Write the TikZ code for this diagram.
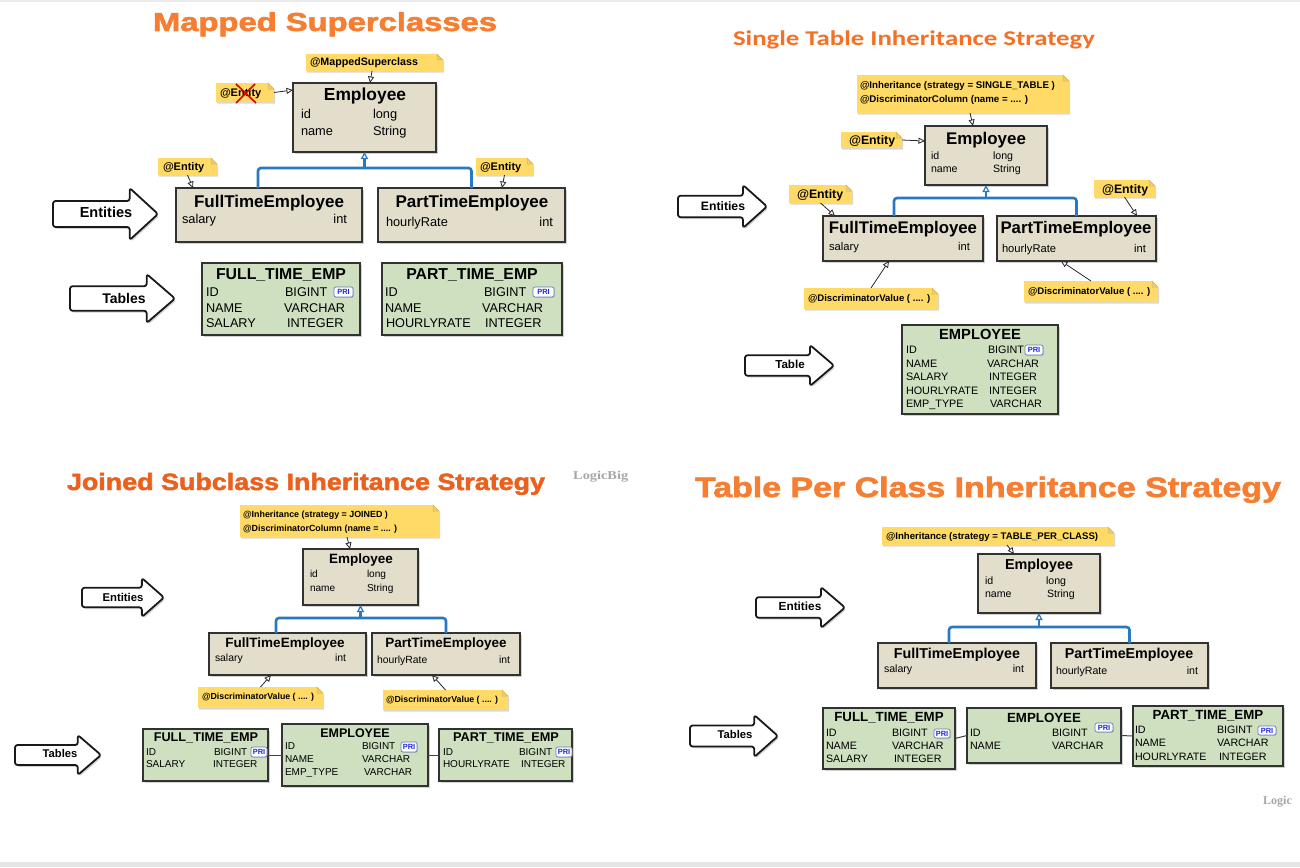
\documentclass[tikz,border=0pt]{standalone}
\usepackage{fontspec}
\setmainfont{Liberation Sans}
\newfontfamily\heavyfont{Liberation Sans}[FakeBold=2]
\newfontfamily\calfont{Carlito}
\newfontfamily\serffont{Liberation Serif}
\usepackage{graphicx}
\usetikzlibrary{shadows,arrows.meta,calc}
\definecolor{entfill}{RGB}{226,222,203}
\definecolor{tblfill}{RGB}{206,224,191}
\definecolor{notefill}{RGB}{255,218,102}
\definecolor{noteedge}{RGB}{222,182,66}
\definecolor{inhblue}{RGB}{40,120,195}
\definecolor{boxedge}{RGB}{50,50,50}
\definecolor{orA}{RGB}{246,126,50}
\definecolor{orB}{RGB}{243,112,36}
\definecolor{orC}{RGB}{236,96,30}
\definecolor{priblue}{RGB}{30,40,230}
\definecolor{priedge}{RGB}{110,120,190}
\newcounter{tn}
\newcommand\fsz[1]{\fontsize{#1}{#1}\selectfont}
\newcommand\fitw[2]{\resizebox{#1}{\height}{#2}}
\tikzset{
  txt/.style={inner sep=0, outer sep=0, anchor=base west},
  ent/.style={anchor=north west, draw=boxedge, line width=1.6pt, fill=entfill, inner sep=0, outer sep=0,
    drop shadow={shadow xshift=1.8pt, shadow yshift=-2pt, opacity=0.35}},
  tbl/.style={ent, fill=tblfill},
  pri/.style={anchor=north west, draw=priedge, fill=white, rounded corners=2pt, line width=0.7pt, inner sep=0, outer sep=0,
    text=priblue, font=\fsz{7.5}\bfseries, drop shadow={shadow xshift=0.8pt, shadow yshift=-0.8pt, opacity=0.35}},
  nt/.style={draw=black!85, line width=0.8pt, -{Triangle[length=6.5pt, width=6pt, fill=white]}},
  inh/.style={draw=inhblue, line width=2.6pt, rounded corners=3pt},
  inharr/.style={draw=inhblue, line width=2.6pt, -{Triangle[length=7pt, width=7pt, fill=white, line width=1.2pt]}},
  tline/.style={draw=black!75, line width=1pt}
}
% text: [opts]{x}{y}{size}{text}
\newcommand\Tx[5][]{\stepcounter{tn}\node[txt,font=\fsz{#4},#1] (t\arabic{tn}) at (#2,{#3+0.36*#4}) {#5};}
% box: {style}{name}{x0}{y0}{x1}{y1}
\newcommand\Bx[6]{\node[#1, minimum width={#5-#3}, minimum height={#6-#4}] (#2) at (#3,#4) {};}
% note: {name}{x0}{y0}{x1}{y1}
\newcommand\Nx[5]{%
  \fill[notefill, drop shadow={shadow xshift=1pt, shadow yshift=-1.5pt, opacity=0.3}] (#2,#3) -- (#4-6,#3) -- (#4,#3+6) -- (#4,#5) -- (#2,#5) -- cycle;
  \filldraw[fill=noteedge!70, draw=noteedge, line width=0.5pt] (#4-6,#3) -- (#4-6,#3+6) -- (#4,#3+6) -- cycle;
  \node[anchor=north west, inner sep=0, outer sep=0, minimum width={#4-#2}, minimum height={#5-#3}] (#1) at (#2,#3) {};}
% PRI badge
\newcommand\Prix[5]{\node[pri, minimum width={#4-#2}, minimum height={#5-#3}] (#1) at (#2,#3) {PRI};}
% block arrow: {name}{x0}{y0}{x1}{y1}{lx}{ly}{size}{text}
\newcommand\BAx[9]{%
  \pgfmathsetmacro\hx{#4-0.27*(#4-#2)}%
  \pgfmathsetmacro\bt{#3+0.25*(#5-#3)}%
  \pgfmathsetmacro\bb{#5-0.25*(#5-#3)}%
  \pgfmathsetmacro\ym{(#3+#5)/2}%
  \filldraw[fill=white, draw=black!90, line width=1.8pt, rounded corners=2.5pt, line join=round,
    drop shadow={shadow xshift=1.5pt, shadow yshift=-1.8pt, opacity=0.35}]
    (#2,\bt) -- (\hx,\bt) -- (\hx,#3) -- (#4,\ym) -- (\hx,#5) -- (\hx,\bb) -- (#2,\bb) -- cycle;
  \node[inner sep=0, font=\fsz{#8}\bfseries] (#1) at (#6,#7) {#9};}
\begin{document}
\begin{tikzpicture}[x=1pt,y=-1pt]
\useasboundingbox (0,0) rectangle (1300,867);
\fill[white] (0,0) rectangle (1300,867);
\fill[black!8] (0,0) rectangle (1300,2);
\fill[black!10] (0,862) rectangle (1300,867);

% ================= Q1 Mapped Superclasses =================
\node[anchor=base, inner sep=0, text=orA] (q1title) at (325,31) {\fitw{344pt}{\heavyfont\bfseries\fsz{26}Mapped Superclasses}};
\BAx{q1ent}{53}{188}{158}{240}{106}{212}{14.5}{Entities}
\BAx{q1tab}{70}{274}{175}{323}{124}{298}{14}{Tables}
\Nx{q1ms}{306}{54}{443}{71}
\Tx{310}{62}{10.7}{\bfseries @MappedSuperclass}
\Nx{q1ex}{216}{83}{274}{102}
\Tx{220}{93}{11}{\bfseries @Entity}
\draw[red!85!black, line width=1.6pt] (236,84) -- (256,103) (255,84) -- (236,103);
\Bx{ent}{q1emp}{293}{83}{436}{152}
\Tx[anchor=base]{365}{94}{17.4}{\bfseries Employee}
\Tx{301}{114}{12.8}{id}\Tx{373}{114}{12.8}{long}
\Tx{301}{131}{12.8}{name}\Tx{373}{131}{12.8}{String}
\Bx{ent}{q1ft}{176}{188}{362}{242}
\Tx[anchor=base]{269}{201}{17}{\bfseries FullTimeEmployee}
\Tx{182}{219}{12.8}{salary}\Tx[anchor=base east]{347}{219}{12.8}{int}
\Bx{ent}{q1pt}{378}{188}{565}{242}
\Tx[anchor=base]{472}{201}{17}{\bfseries PartTimeEmployee}
\Tx{386}{222}{12.8}{hourlyRate}\Tx[anchor=base east]{553}{222}{12.8}{int}
\Nx{q1nf}{158}{158}{217}{175}
\Tx{163}{167}{11}{\bfseries @Entity}
\Nx{q1np}{476}{158}{533}{175}
\Tx{480}{167}{11}{\bfseries @Entity}
\draw[nt] ([xshift=-2.5pt]q1ms.south) -- ([xshift=5.5pt]q1emp.north);
\draw[nt] (q1ex.east) -- ([yshift=-7pt]q1emp.north west);
\draw[nt] (q1nf.south) -- ([xshift=17pt]q1ft.north west);
\draw[nt] (q1np.south) -- ([xshift=124pt]q1pt.north west);
\draw[inh] ([xshift=-11pt]q1ft.north) |- ([yshift=-16pt]q1emp.south) -| (q1pt.north);
\draw[inharr] ([yshift=-16pt]q1emp.south) -- (q1emp.south);
\Bx{tbl}{q1tft}{202}{263}{360}{335}
\Tx[anchor=base]{281}{274}{15.8}{\bfseries FULL\_TIME\_EMP}
\Tx{206}{292}{12.7}{ID}\Tx{285}{292}{12.7}{BIGINT}\Prix{q1p1}{334}{287}{353}{297}
\Tx{206}{308}{12.7}{NAME}\Tx{284}{308}{12.7}{VARCHAR}
\Tx{206}{323}{12.7}{SALARY}\Tx{287}{323}{12.7}{INTEGER}
\Bx{tbl}{q1tpt}{382}{263}{562}{335}
\Tx[anchor=base]{472}{274}{15.8}{\bfseries PART\_TIME\_EMP}
\Tx{385}{292}{12.7}{ID}\Tx{484}{292}{12.7}{BIGINT}\Prix{q1p2}{533}{287}{554}{297}
\Tx{385}{308}{12.7}{NAME}\Tx{482}{308}{12.7}{VARCHAR}
\Tx{386}{323}{12.7}{HOURLYRATE}\Tx{485}{323}{12.7}{INTEGER}

% ================= Q2 Single Table =================
\node[anchor=base, inner sep=0, text=orB] (q2title) at (914,46) {\fitw{362pt}{\calfont\bfseries\fsz{21}Single Table Inheritance Strategy}};
\BAx{q2ent}{678}{185}{767}{228}{723}{206}{12.2}{Entities}
\BAx{q2tab}{745}{345}{834}{386}{790}{364}{11.6}{Table}
\Nx{q2ni}{857}{75}{1069}{113}
\Tx{860}{85}{9.7}{\bfseries @Inheritance (strategy = SINGLE\_TABLE )}
\Tx{860}{99}{9.7}{\bfseries @DiscriminatorColumn (name = .... )}
\Bx{ent}{q2emp}{925}{126}{1047}{185}
\Tx[anchor=base]{986}{138}{16.9}{\bfseries Employee}
\Tx{931}{156}{10.6}{id}\Tx{993}{156}{10.6}{long}
\Tx{931}{169}{10.6}{name}\Tx{993}{169}{10.6}{String}
\Nx{q2ne}{841}{132}{902}{148}
\Tx{849}{140}{12.3}{\bfseries @Entity}
\Bx{ent}{q2ft}{823}{216}{983}{261}
\Tx[anchor=base]{903}{227}{16.8}{\bfseries FullTimeEmployee}
\Tx{829}{246}{11.2}{salary}\Tx[anchor=base east]{970}{246}{11.2}{int}
\Bx{ent}{q2pt}{997}{216}{1156}{261}
\Tx[anchor=base]{1076}{227}{16.8}{\bfseries PartTimeEmployee}
\Tx{1002}{248}{11.2}{hourlyRate}\Tx[anchor=base east]{1146}{248}{11.2}{int}
\Nx{q2nf}{789}{185}{852}{203}
\Tx{797}{194}{12.3}{\bfseries @Entity}
\Nx{q2np}{1094}{180}{1155}{197}
\Tx{1102}{189}{12.3}{\bfseries @Entity}
\Nx{q2dl}{804}{288}{938}{309}
\Tx{808}{298}{9.6}{\bfseries @DiscriminatorValue ( .... )}
\Nx{q2dr}{1024}{281}{1158}{302}
\Tx{1028}{291}{9.6}{\bfseries @DiscriminatorValue ( .... )}
\draw[nt] ([xshift=7pt]q2ni.south) -- ([xshift=-13pt]q2emp.north);
\draw[nt] (q2ne.east) -- ([yshift=-15pt]q2emp.north west);
\draw[nt] (q2nf.south) -- ([xshift=12pt]q2ft.north west);
\draw[nt] (q2np.south) -- ([xshift=-19pt]q2pt.north east);
\draw[nt] (q2dl.north) -- ([xshift=-14pt]q2ft.south);
\draw[nt] (q2dr.north) -- ([xshift=-15.5pt]q2pt.south);
\draw[inh] ([xshift=-9pt]q2ft.north) |- ([yshift=-13pt]q2emp.south) -| (q2pt.north);
\draw[inharr] ([yshift=-13pt]q2emp.south) -- (q2emp.south);
\Bx{tbl}{q2temp}{902}{325}{1058}{414}
\Tx[anchor=base]{980}{334}{14.7}{\bfseries EMPLOYEE}
\Tx{906}{350}{10.8}{ID}\Tx{988}{350}{10.8}{BIGINT}\Prix{q2p}{1025}{345}{1043}{355}
\Tx{906}{364}{10.8}{NAME}\Tx{987}{364}{10.8}{VARCHAR}
\Tx{906}{377}{10.8}{SALARY}\Tx{989}{377}{10.8}{INTEGER}
\Tx{906}{391}{10.8}{HOURLYRATE}\Tx{989}{391}{10.8}{INTEGER}
\Tx{906}{404}{10.8}{EMP\_TYPE}\Tx{990}{404}{10.8}{VARCHAR}

% ================= Q3 Joined =================
\node[anchor=base, inner sep=0, text=orC] (q3title) at (306,490) {\fitw{478pt}{\heavyfont\bfseries\fsz{23.5}Joined Subclass Inheritance Strategy}};
\node[anchor=base west, inner sep=0, text=black!35] (q3logo) at (573,479) {\fitw{55pt}{\serffont\bfseries\fsz{12}LogicBig}};
\BAx{q3ent}{82}{578}{164}{617}{123}{597}{11.3}{Entities}
\BAx{q3tab}{15}{735}{101}{775}{60}{753}{11.2}{Tables}
\Nx{q3ni}{240}{505}{439}{537}
\Tx{243}{514}{8.9}{\bfseries @Inheritance (strategy = JOINED )}
\Tx{243}{528}{8.9}{\bfseries @DiscriminatorColumn (name = .... )}
\Bx{ent}{q3emp}{303}{549}{418}{605}
\Tx[anchor=base]{361}{559}{13.5}{\bfseries Employee}
\Tx{310}{574}{10.1}{id}\Tx{367}{574}{10.1}{long}
\Tx{310}{588}{10.1}{name}\Tx{367}{588}{10.1}{String}
\Bx{ent}{q3ft}{209}{633}{366}{675}
\Tx[anchor=base]{285}{643}{13.5}{\bfseries FullTimeEmployee}
\Tx{215}{658}{10.4}{salary}\Tx[anchor=base east]{346}{658}{10.4}{int}
\Bx{ent}{q3pt}{372}{633}{520}{675}
\Tx[anchor=base]{446}{643}{13.5}{\bfseries PartTimeEmployee}
\Tx{377}{660}{10.4}{hourlyRate}\Tx[anchor=base east]{510}{660}{10.4}{int}
\Nx{q3dl}{198}{687}{323}{708}
\Tx{202}{696}{8.8}{\bfseries @DiscriminatorValue ( .... )}
\Nx{q3dr}{383}{690}{508}{710}
\Tx{386}{699}{8.8}{\bfseries @DiscriminatorValue ( .... )}
\draw[nt] ([xshift=7.5pt]q3ni.south) -- ([xshift=-10.5pt]q3emp.north);
\draw[nt] (q3dl.north) -- ([xshift=-16.5pt]q3ft.south);
\draw[nt] (q3dr.north) -- ([xshift=-14pt]q3pt.south);
\draw[inh] ([xshift=-11.5pt]q3ft.north) |- ([yshift=-13pt]q3emp.south) -| (q3pt.north);
\draw[inharr] ([yshift=-13pt]q3emp.south) -- (q3emp.south);
\Bx{tbl}{q3tft}{143}{729}{268}{781}
\Tx[anchor=base]{206}{737}{12.7}{\bfseries FULL\_TIME\_EMP}
\Tx{146}{752}{10}{ID}\Tx{214}{752}{10}{BIGINT}\Prix{q3p1}{251}{747}{267}{757}
\Tx{146}{764}{10}{SALARY}\Tx{213}{764}{10}{INTEGER}
\Bx{tbl}{q3temp}{282}{724}{428}{786}
\Tx[anchor=base]{355}{733}{12.5}{\bfseries EMPLOYEE}
\Tx{285}{746}{10}{ID}\Tx{362}{746}{10}{BIGINT}\Prix{q3p2}{401}{742}{417}{752}
\Tx{285}{759}{10}{NAME}\Tx{362}{759}{10}{VARCHAR}
\Tx{285}{772}{10}{EMP\_TYPE}\Tx{364}{772}{10}{VARCHAR}
\Bx{tbl}{q3tpt}{439}{729}{572}{781}
\Tx[anchor=base]{506}{737}{12.7}{\bfseries PART\_TIME\_EMP}
\Tx{443}{752}{10}{ID}\Tx{519}{752}{10}{BIGINT}\Prix{q3p3}{556}{747}{572}{757}
\Tx{443}{764}{10}{HOURLYRATE}\Tx{521}{764}{10}{INTEGER}
\draw[tline] (q3tft.east) -- (q3temp.west);
\draw[tline] (q3temp.east) -- (q3tpt.west);

% ================= Q4 Table per class =================
\node[anchor=base, inner sep=0, text=orA] (q4title) at (988,497) {\fitw{586pt}{\heavyfont\bfseries\fsz{28}Table Per Class Inheritance Strategy}};
\BAx{q4ent}{756}{587}{845}{628}{800}{606}{11.8}{Entities}
\BAx{q4tab}{690}{715}{778}{757}{735}{734}{11.3}{Tables}
\Nx{q4ni}{882}{527}{1114}{545}
\Tx{886}{536}{9.6}{\bfseries @Inheritance (strategy = TABLE\_PER\_CLASS)}
\Bx{ent}{q4emp}{978}{554}{1100}{613}
\Tx[anchor=base]{1039}{564}{14.4}{\bfseries Employee}
\Tx{985}{581}{10.6}{id}\Tx{1046}{581}{10.6}{long}
\Tx{985}{594}{10.6}{name}\Tx{1047}{594}{10.6}{String}
\Bx{ent}{q4ft}{878}{643}{1036}{688}
\Tx[anchor=base]{957}{653}{14.3}{\bfseries FullTimeEmployee}
\Tx{884}{669}{10.6}{salary}\Tx[anchor=base east]{1024}{669}{10.6}{int}
\Bx{ent}{q4pt}{1051}{643}{1208}{688}
\Tx[anchor=base]{1129}{653}{14.3}{\bfseries PartTimeEmployee}
\Tx{1056}{671}{10.6}{hourlyRate}\Tx[anchor=base east]{1198}{671}{10.6}{int}
\draw[nt] ([xshift=9pt]q4ni.south) -- ([xshift=-25pt]q4emp.north);
\draw[inh] ([xshift=-8pt]q4ft.north) |- ([yshift=-14pt]q4emp.south) -| (q4pt.north);
\draw[inharr] ([yshift=-14pt]q4emp.south) -- (q4emp.south);
\Bx{tbl}{q4tft}{823}{708}{955}{769}
\Tx[anchor=base]{889}{717}{13.3}{\bfseries FULL\_TIME\_EMP}
\Tx{826}{733}{10.7}{ID}\Tx{892}{733}{10.7}{BIGINT}\Prix{q4p1}{934}{729}{950}{738}
\Tx{826}{746}{10.7}{NAME}\Tx{892}{746}{10.7}{VARCHAR}
\Tx{826}{759}{10.7}{SALARY}\Tx{894}{759}{10.7}{INTEGER}
\Bx{tbl}{q4temp}{967}{708}{1121}{763}
\Tx[anchor=base]{1044}{718}{13.3}{\bfseries EMPLOYEE}
\Tx{970}{733}{10.7}{ID}\Tx{1052}{733}{10.7}{BIGINT}\Prix{q4p2}{1095}{723}{1113}{732}
\Tx{970}{746}{10.7}{NAME}\Tx{1052}{746}{10.7}{VARCHAR}
\Bx{tbl}{q4tpt}{1133}{706}{1283}{766}
\Tx[anchor=base]{1208}{715}{13.3}{\bfseries PART\_TIME\_EMP}
\Tx{1135}{730}{10.7}{ID}\Tx{1217}{730}{10.7}{BIGINT}\Prix{q4p3}{1258}{726}{1276}{735}
\Tx{1135}{743}{10.7}{NAME}\Tx{1217}{743}{10.7}{VARCHAR}
\Tx{1135}{757}{10.7}{HOURLYRATE}\Tx{1219}{757}{10.7}{INTEGER}
\draw[tline] (q4tft.east) -- (q4temp.west);
\draw[tline] (q4temp.east) -- (q4tpt.west);
\node[anchor=base west, inner sep=0, text=black!35] (q4logo) at (1263,804) {\serffont\bfseries\fsz{12}Logic};
\end{tikzpicture}
\end{document}
